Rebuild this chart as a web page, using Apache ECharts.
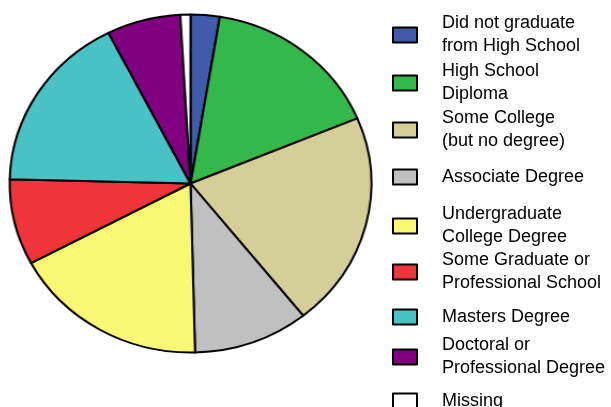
<!DOCTYPE html>
<html>
<head>
<meta charset="utf-8">
<script src="https://cdn.jsdelivr.net/npm/echarts@6/dist/echarts.min.js"></script>
<style>
  html, body { margin: 0; padding: 0; background: #fff; }
  #wrap { position: relative; width: 611px; height: 407px; overflow: hidden; }
  /* the pie is drawn slightly wider than tall */
  #pie { position: absolute; left: 0; top: 0; width: 380px; height: 407px;
         transform-origin: 190.5px 183.5px; transform: scaleX(1.07); }
  #key { position: absolute; left: 0; top: 0; width: 611px; height: 407px; }
</style>
</head>
<body>
<div id="wrap">
  <div id="pie"></div>
  <div id="key"></div>
</div>
<script>
// Highest level of education (percent of respondents)
const categories = [
  'Did not graduate\nfrom High School',
  'High School\nDiploma',
  'Some College\n(but no degree)',
  'Associate Degree',
  'Undergraduate\nCollege Degree',
  'Some Graduate or\nProfessional School',
  'Masters Degree',
  'Doctoral or\nProfessional Degree',
  'Missing'
];
const shares = [2.6, 16.1, 20.6, 10.3, 17.6, 8.2, 17.1, 6.6, 0.9];
const colors = ['#3F5BAA', '#33B94A', '#D4CF98', '#C0C0C0', '#FAF774',
                '#EF343B', '#48C2C5', '#800080', '#FFFFFF'];

// vertical centre of each legend entry
const keyCenters = [35, 83, 130, 177, 226, 272, 317, 357, 401];

const data = categories.map((name, i) => ({
  name: name,
  value: shares[i],
  itemStyle: { color: colors[i] }
}));

const pieChart = echarts.init(document.getElementById('pie'), null, { renderer: 'canvas' });
pieChart.setOption({
  animation: false,
  series: [{
    type: 'pie',
    center: [190.5, 183.5],
    radius: [0, 169],
    startAngle: 90,
    clockwise: true,
    silent: true,
    label: { show: false },
    labelLine: { show: false },
    itemStyle: { borderColor: '#000', borderWidth: 2 },
    data: data
  }]
});

const LINE_H = 23;
const keyChart = echarts.init(document.getElementById('key'), null, { renderer: 'canvas' });
keyChart.setOption({
  animation: false,
  legend: categories.map((name, i) => {
    const lines = name.split('\n').length;
    return {
      data: [name],
      left: 392,
      top: keyCenters[i] - (lines * LINE_H) / 2,
      padding: 0,
      icon: 'rect',
      itemWidth: 24,
      itemHeight: 15,
      selectedMode: false,
      itemStyle: { borderColor: '#000', borderWidth: 2 },
      textStyle: {
        fontFamily: 'Liberation Sans, Arial, sans-serif',
        fontSize: 18,
        lineHeight: LINE_H,
        color: '#000',
        padding: [0, 0, 0, 20]
      }
    };
  }),
  series: [{
    type: 'pie',
    center: [-500, -500],
    radius: 5,
    silent: true,
    label: { show: false },
    itemStyle: { borderColor: '#000', borderWidth: 2 },
    data: data
  }]
});
</script>
</body>
</html>
